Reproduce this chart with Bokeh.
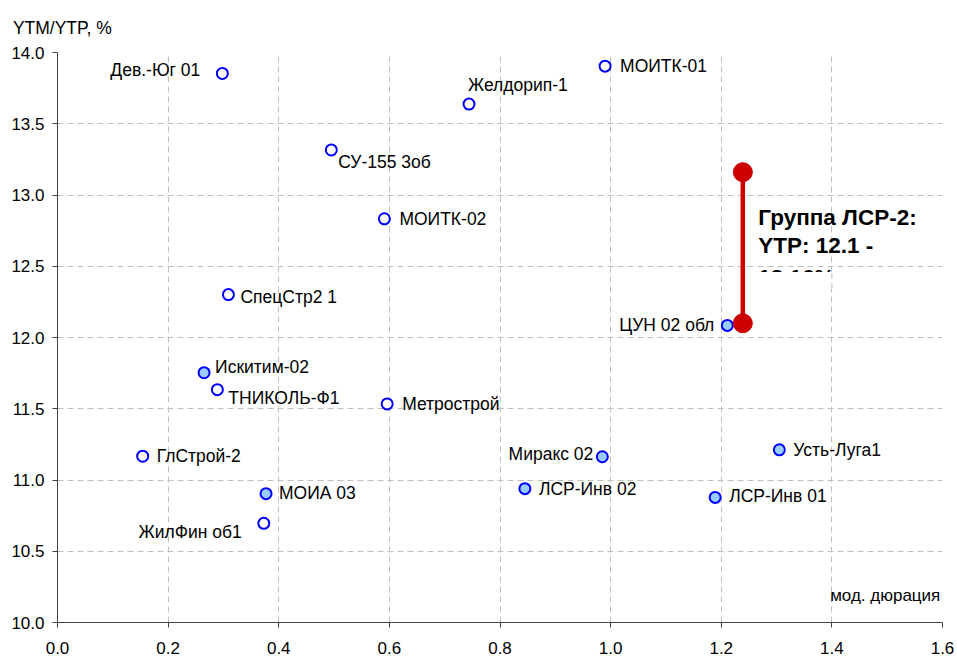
from bokeh.plotting import figure
from bokeh.models import ColumnDataSource, FixedTicker, Label, Range1d, PrintfTickFormatter, Title
from bokeh.core.properties import value
from bokeh.embed import file_html
from bokeh.resources import INLINE

# ---- data ----
names = ["Дев.-Юг 01", "МОИТК-01", "Желдорип-1", "СУ-155 3об", "МОИТК-02", "СпецСтр2 1",
         "ЦУН 02 обл", "Искитим-02", "ТНИКОЛЬ-Ф1", "Метрострой", "ГлСтрой-2", "МОИА 03",
         "ЖилФин об1", "Миракс 02", "Усть-Луга1", "ЛСР-Инв 02", "ЛСР-Инв 01"]
duration = [0.298, 0.990, 0.744, 0.495, 0.591, 0.309,
            1.211, 0.265, 0.289, 0.596, 0.154, 0.377,
            0.373, 0.985, 1.305, 0.845, 1.189]
ytm = [13.853, 13.904, 13.638, 13.316, 12.833, 12.301,
       12.085, 11.753, 11.634, 11.534, 11.167, 10.904,
       10.696, 11.163, 11.212, 10.939, 10.878]
group = ["B", "B", "B", "B", "B", "B",
         "A", "A", "B", "B", "B", "A",
         "B", "A", "A", "A", "A"]

lsr_name = "Группа ЛСР-2"
lsr_duration = 1.239
lsr_ytp_low = 12.1
lsr_ytp_high = 13.16

x_ticks = [0.0, 0.2, 0.4, 0.6, 0.8, 1.0, 1.2, 1.4, 1.6]
y_ticks = [10.0, 10.5, 11.0, 11.5, 12.0, 12.5, 13.0, 13.5, 14.0]
y_title = "YTM/YTP, %"
x_title = "мод. дюрация"

# ---- layout of point labels: (align, dx px, dy px) ----
label_layout = {
    "Дев.-Юг 01": ("right", -22, -3),
    "МОИТК-01": ("left", 15, 0),
    "Желдорип-1": ("left", -1, -19),
    "СУ-155 3об": ("left", 7, 12),
    "МОИТК-02": ("left", 15, 0),
    "СпецСтр2 1": ("left", 12, 2),
    "ЦУН 02 обл": ("right", -13, 0),
    "Искитим-02": ("left", 11, -6),
    "ТНИКОЛЬ-Ф1": ("left", 11, 8),
    "Метрострой": ("left", 15, 0),
    "ГлСтрой-2": ("left", 14, 0),
    "МОИА 03": ("left", 13, -1),
    "ЖилФин об1": ("right", -22, 9),
    "Миракс 02": ("right", -9, -3),
    "Усть-Луга1": ("left", 14, 0),
    "ЛСР-Инв 02": ("left", 14, 0),
    "ЛСР-Инв 01": ("left", 14, -1),
}

FONT = "Liberation Sans"
fill_map = {"A": "#99CCFF", "B": "#FFFFFF"}
GRID_COLOR = "#C0C0C0"
GRID_DASH = "6 4"

src = ColumnDataSource(dict(
    x=duration, y=ytm, name=names,
    fill=[fill_map[g] for g in group],
    align=[label_layout[n][0] for n in names],
    dx=[label_layout[n][1] for n in names],
    dy=[label_layout[n][2] for n in names],
))

p = figure(width=957, height=656, x_range=Range1d(0, 1.6), y_range=Range1d(10, 14),
           output_backend="svg", toolbar_location=None,
           min_border_left=57, min_border_right=15, min_border_top=52, min_border_bottom=33)
p.outline_line_color = None
p.background_fill_color = "white"
p.border_fill_color = "white"

for ax, ticks in ((p.xaxis[0], x_ticks), (p.yaxis[0], y_ticks)):
    ax.ticker = FixedTicker(ticks=ticks)
    ax.formatter = PrintfTickFormatter(format="%.1f")
    ax.axis_line_color = "#404040"
    ax.major_tick_line_color = "#404040"
    ax.major_tick_out = 5
    ax.major_tick_in = 0
    ax.minor_tick_line_color = None
    ax.major_label_text_font = FONT
    ax.major_label_text_color = "black"
    ax.major_label_text_font_size = "17px"
p.xaxis.major_label_standoff = 14
p.yaxis.major_label_standoff = 8

p.xgrid.ticker = FixedTicker(ticks=x_ticks)
p.ygrid.ticker = FixedTicker(ticks=y_ticks)
for g in (p.xgrid[0], p.ygrid[0]):
    g.grid_line_color = GRID_COLOR
    g.grid_line_dash = GRID_DASH
    g.grid_line_width = 1

# points
p.scatter("x", "y", source=src, size=11, fill_color="fill", line_color="#0000FF", line_width=2)
p.text("x", "y", text="name", source=src, x_offset="dx", y_offset="dy", text_align="align",
       text_baseline="middle", text_font=value(FONT), text_font_size="17.5px", text_color="black")

# LSR range
p.segment(x0=[lsr_duration], y0=[lsr_ytp_low], x1=[lsr_duration], y1=[lsr_ytp_high],
          line_color="#CC0000", line_width=4.5)
p.scatter([lsr_duration, lsr_duration], [lsr_ytp_low, lsr_ytp_high], size=19,
          fill_color="#CC0000", line_color="#CC0000")

lsr_lines = [f"{lsr_name}:", f"YTP: {lsr_ytp_low} -", f"{lsr_ytp_high}%"]
p.text(x=[1.267] * 3, y=[12.839, 12.645, 12.422], text=lsr_lines, text_align="left",
       text_baseline="middle", text_font=value(FONT), text_font_size="22.5px",
       text_font_style="bold", text_color="black")
# text box clipping of the last line
p.quad(left=[1.26], right=[1.42], bottom=[12.34], top=[12.46],
       fill_color="white", line_color=None)
p.segment(x0=[1.4], y0=[12.34], x1=[1.4], y1=[12.46],
          line_color=GRID_COLOR, line_dash=GRID_DASH, line_width=1)

t = Title(text=y_title, align="left", offset=-44.6, standoff=30,
          text_font=FONT, text_font_size="17.5px", text_font_style="normal", text_color="black")
p.add_layout(t, "above")
p.add_layout(Label(x=1.596, y=10.188, text=x_title, text_font=FONT, text_font_size="17px",
                   text_align="right", text_baseline="middle", text_color="black"))

open("out.html", "w").write(file_html(p, INLINE))
